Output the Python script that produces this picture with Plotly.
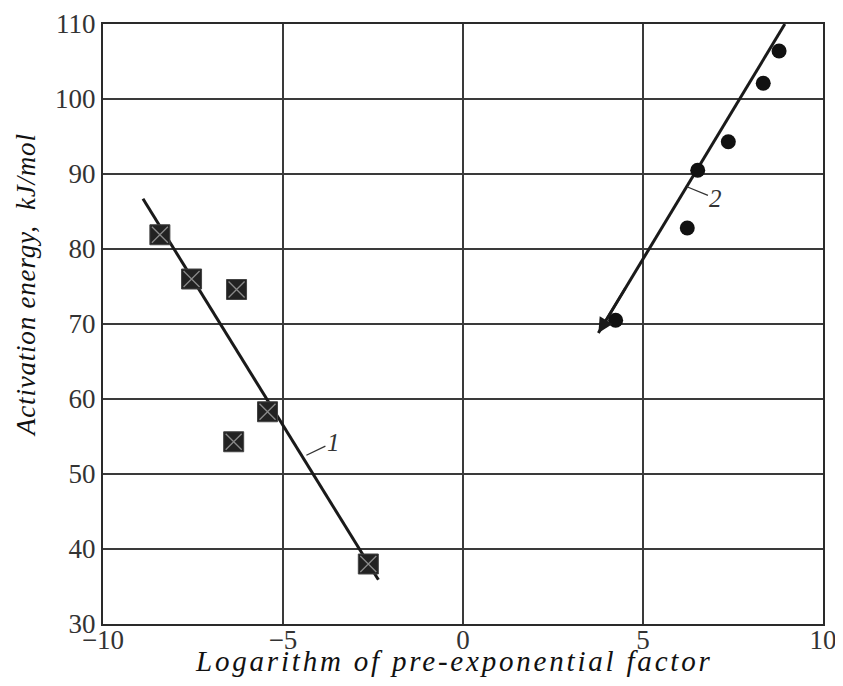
import plotly.graph_objects as go

# Series 1 (squares with cross)
s1_x = [-8.42, -7.54, -6.29, -5.43, -6.37, -2.63]
s1_y = [81.9, 76.0, 74.6, 58.3, 54.3, 38.0]
# Fit line 1 end points
l1_x = [-8.89, -2.35]
l1_y = [86.7, 35.9]

# Series 2 (filled circles)
s2_x = [8.78, 8.34, 7.37, 6.52, 6.23, 4.24]
s2_y = [106.4, 102.1, 94.3, 90.5, 82.8, 70.5]
# Fit line 2 end points (arrow at the lower end)
l2_x = [8.94, 3.76]
l2_y = [110.0, 68.8]

# Curve labels: text, point on line
lab_text = ["1", "2"]
lab_x = [-4.35, 6.22]
lab_y = [52.5, 88.3]

x_ticks = [-10, -5, 0, 5, 10]
y_ticks = [30, 40, 50, 60, 70, 80, 90, 100, 110]

x_title = "Logarithm of pre-exponential factor"
y_title = "Activation energy,  kJ/mol"

SERIF = "Liberation Serif, Times New Roman, serif"

fig = go.Figure()

fig.add_trace(go.Scatter(x=l1_x, y=l1_y, mode="lines",
                         line=dict(color="#1a1a1a", width=3), showlegend=False))
fig.add_trace(go.Scatter(x=l2_x, y=l2_y, mode="lines",
                         line=dict(color="#1a1a1a", width=3), showlegend=False))

fig.add_trace(go.Scatter(x=s1_x, y=s1_y, mode="markers",
                         marker=dict(symbol="square", size=20, color="#222222",
                                     line=dict(color="#444444", width=1)),
                         showlegend=False))
fig.add_trace(go.Scatter(x=s1_x, y=s1_y, mode="markers",
                         marker=dict(symbol="x-thin", size=16,
                                     line=dict(color="#8a8a8a", width=1.3)),
                         showlegend=False))
fig.add_trace(go.Scatter(x=s2_x, y=s2_y, mode="markers",
                         marker=dict(symbol="circle", size=15, color="#111111"),
                         showlegend=False))

# Arrowhead at the lower end of line 2
fig.add_annotation(x=l2_x[1], y=l2_y[1], ax=l2_x[0] - (l2_x[0] - l2_x[1]) * 0.85,
                   ay=l2_y[0] - (l2_y[0] - l2_y[1]) * 0.85,
                   axref="x", ayref="y", xref="x", yref="y", text="",
                   showarrow=True, arrowhead=2, arrowsize=1.2, arrowwidth=2.5,
                   arrowcolor="#1a1a1a")

# Curve labels with leader ticks
offsets = [(27, -13), (29, 12)]
for t, xx, yy, (ox, oy) in zip(lab_text, lab_x, lab_y, offsets):
    fig.add_annotation(x=xx, y=yy, ax=ox, ay=oy, text="<i>" + t + "</i>",
                       showarrow=True, arrowhead=0, arrowwidth=1.3,
                       arrowcolor="#333333",
                       font=dict(family=SERIF, size=25, color="#333333"),
                       xanchor="center", yanchor="middle", standoff=0)

# Axis titles
fig.add_annotation(xref="paper", yref="paper", x=0.5, y=0, yshift=-37, xshift=-9,
                   text='<span style="letter-spacing:2.8px"><i>' + x_title + "</i></span>",
                   showarrow=False, xanchor="center", yanchor="middle",
                   font=dict(family=SERIF, size=29, color="#111111"))
fig.add_annotation(xref="paper", yref="paper", x=0, y=0.5, xshift=-77, yshift=39,
                   text='<span style="letter-spacing:0.8px"><i>' + y_title + "</i></span>",
                   showarrow=False, xanchor="center", yanchor="middle", textangle=-90,
                   font=dict(family=SERIF, size=27, color="#111111"))

fig.update_xaxes(range=[-10, 10], tickvals=x_ticks, showgrid=True,
                 gridcolor="#3a3a3a", gridwidth=1.5, zeroline=False,
                 showline=True, linecolor="#2a2a2a", linewidth=2, mirror=True,
                 ticks="", automargin=False, ticklabelstandoff=-9,
                 tickfont=dict(family=SERIF, size=27, color="#333333"))
fig.update_yaxes(range=[30, 110], tickvals=y_ticks, showgrid=True,
                 gridcolor="#3a3a3a", gridwidth=1.5, zeroline=False,
                 showline=True, linecolor="#2a2a2a", linewidth=2, mirror=True,
                 ticks="", automargin=False,
                 tickfont=dict(family=SERIF, size=27, color="#333333"))

# The page body adds an 8px offset; margins compensate so the plot area
# lands at the reference position.
fig.update_layout(width=843, height=686, plot_bgcolor="white",
                  paper_bgcolor="white",
                  margin=dict(l=95, r=28, t=16, b=70))

fig.write_html("out.html")
